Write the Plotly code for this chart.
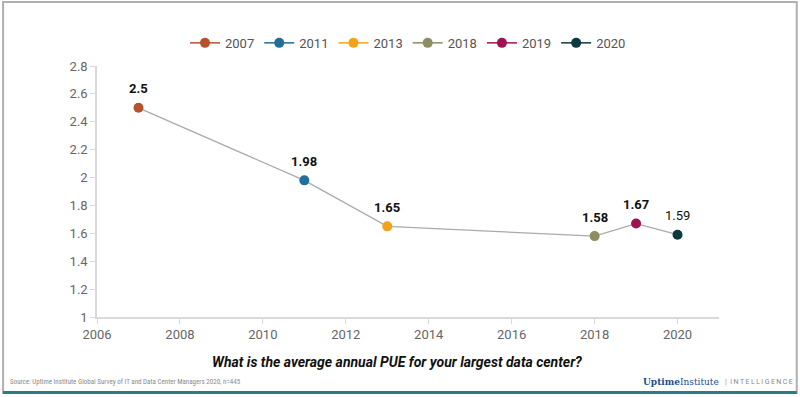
import plotly.graph_objects as go

years = [2007, 2011, 2013, 2018, 2019, 2020]
pue = [2.5, 1.98, 1.65, 1.58, 1.67, 1.59]
series_names = ["2007", "2011", "2013", "2018", "2019", "2020"]
colors = ["#b5532f", "#1f6f9a", "#f2a31b", "#8e8c62", "#9b1451", "#0c3a3e"]
label_bold = [True, True, True, True, True, False]
x_ticks = [2006, 2008, 2010, 2012, 2014, 2016, 2018, 2020]
y_ticks = [1, 1.2, 1.4, 1.6, 1.8, 2, 2.2, 2.4, 2.6, 2.8]

fig = go.Figure()
fig.add_trace(go.Scatter(x=years, y=pue, mode="lines",
                         line=dict(color="#aaaaaa", width=1.3),
                         showlegend=False, hoverinfo="skip"))
for yr, v, name, c in zip(years, pue, series_names, colors):
    fig.add_trace(go.Scatter(x=[yr], y=[v], mode="lines+markers", name=name,
                             line=dict(color=c, width=1.5),
                             marker=dict(color=c, size=10)))

for yr, v, b in zip(years, pue, label_bold):
    txt = f"<b>{v:g}</b>" if b else f"{v:g}"
    fig.add_annotation(x=yr, y=v, text=txt, showarrow=False, yshift=19,
                       font=dict(family="Roboto", size=13, color="#111111"))

fig.add_annotation(xref="paper", yref="paper", x=0.483, y=-0.179,
                   text="<b><i>What is the average annual PUE for your largest data center?</i></b>",
                   showarrow=False, font=dict(family="Roboto", size=14, color="#111111"),
                   xanchor="center", yanchor="middle")
fig.add_annotation(xref="paper", yref="paper", x=-0.143, y=-0.259,
                   text="Source: Uptime Institute Global Survey of IT and Data Center Managers 2020, n=445",
                   showarrow=False,
                   font=dict(family="Liberation Sans Narrow, Roboto Condensed, Roboto", size=7, color="#8a8a8a"),
                   xanchor="left", yanchor="middle")
fig.add_annotation(xref="paper", yref="paper", x=1.003, y=-0.259,
                   text="<b>Uptime</b>Institute",
                   showarrow=False, font=dict(family="DejaVu Serif", size=9, color="#1c4f8c"),
                   xanchor="right", yanchor="middle")
intel = "\u2009".join("INTELLIGENCE")
fig.add_annotation(xref="paper", yref="paper", x=1.007, y=-0.259,
                   text="|  " + intel,
                   showarrow=False, font=dict(family="Roboto", size=7, color="#888888"),
                   xanchor="left", yanchor="middle")

# frame
fig.add_shape(type="rect", xref="paper", yref="paper", x0=-0.151, x1=1.125, y0=-0.303, y1=1.255,
              line=dict(color="#b0b0b0", width=2))
fig.add_shape(type="line", xref="paper", yref="paper", x0=-0.151, x1=1.125, y0=-0.301, y1=-0.301,
              line=dict(color="#2b7c86", width=3))

fig.update_layout(
    width=800, height=397,
    margin=dict(l=97, r=81, t=66, b=80, autoexpand=False),
    paper_bgcolor="white", plot_bgcolor="white",
    font=dict(family="Roboto", color="#666666"),
    legend=dict(orientation="h", x=0.5, xanchor="center", y=1.092, yanchor="middle",
                font=dict(family="Roboto", size=13, color="#555555"),
                itemwidth=30, tracegroupgap=0, bgcolor="rgba(0,0,0,0)"),
    showlegend=True,
)
fig.update_xaxes(range=[2006, 2021], tickvals=x_ticks, showgrid=False, zeroline=False,
                 showline=True, linecolor="#d9d9d9", linewidth=1.5,
                 ticks="outside", ticklen=5, tickcolor="#d9d9d9",
                 tickfont=dict(family="Roboto", size=13, color="#666666"))
fig.update_yaxes(range=[1, 2.8], tickvals=y_ticks, ticktext=[f"{t:g}" for t in y_ticks],
                 showgrid=False, zeroline=False,
                 showline=True, linecolor="#d9d9d9", linewidth=1.5,
                 ticks="outside", ticklen=5, tickcolor="#d9d9d9",
                 tickfont=dict(family="Roboto", size=13, color="#666666"))

fig.write_html("out.html", config={"displayModeBar": False},
               post_script="document.body.style.margin='0';document.body.style.overflow='hidden';")
